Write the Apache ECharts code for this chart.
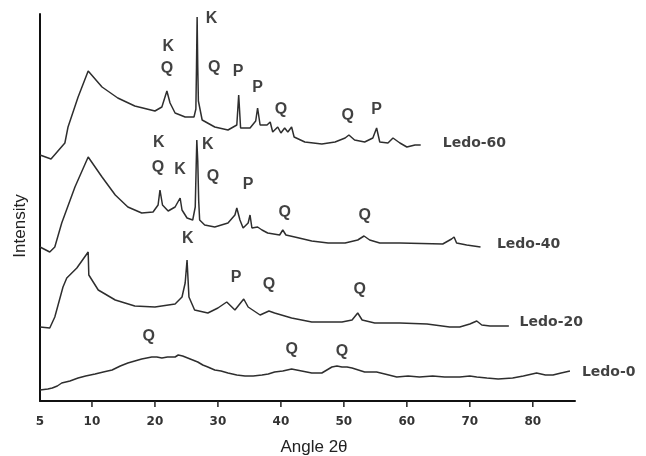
<!DOCTYPE html>
<html><head><meta charset="utf-8">
<script src="https://cdn.jsdelivr.net/npm/echarts@6/dist/echarts.min.js"></script>
<style>html,body{margin:0;padding:0;background:#fff}#c{width:646px;height:456px}</style>
</head><body><div id="c"></div>
<script>
// ---- data (2θ angle, intensity in arbitrary offset units) ----
const ledo60Angle = [1.75,3.5,5.7,6.2,7.8,9.4,11.6,14.1,16.8,20.0,21.1,21.9,22.4,23.2,24.8,26.2,26.5,26.6,26.7,26.8,26.9,27.5,29.5,31.6,33.0,33.3,33.6,35.1,36.0,36.3,36.7,37.8,38.3,38.7,39.5,40.0,40.6,41.1,41.7,42.1,43.8,46.5,48.6,50.2,50.8,51.7,53.3,54.6,55.2,55.7,57.0,57.8,58.9,60.0,61.3,62.2];
const ledo60Int   = [246,242,258,274,304,330,314,303,295,290,294,310,298,288,284,284,292,334,384,334,300,281,274,271,276,306,273,273,280,293,276,276,279,269,274,268,273,269,274,264,259,257,259,263,266,261,259,263,273,259,258,263,258,254,256,256];

const ledo40Angle = [1.75,3.3,4.1,5.2,7.3,9.4,11.6,13.7,15.7,17.9,19.7,20.5,20.8,21.2,22.1,23.2,24.0,24.3,25.1,26.0,26.4,26.55,26.65,26.8,26.95,27.1,27.9,29.5,31.6,32.7,33.0,33.5,34.0,34.8,35.1,35.4,36.3,37.0,37.9,39.8,40.3,40.8,42.2,44.9,47.5,50.2,52.2,53.2,54.1,55.7,58.9,65.7,67.1,67.5,67.9,69.5,71.7];
const ledo40Int   = [154,149,154,178,214,244,224,206,194,188,189,196,211,196,190,194,203,191,183,181,194,235,261,240,200,181,176,174,178,186,193,181,173,178,186,173,174,171,168,166,171,166,164,160,158,158,161,165,161,158,158,157,162,164,158,156,154];

const ledo20Angle = [1.75,3.3,4.1,5.4,6.0,7.6,9.4,9.5,11.0,13.7,16.8,20.0,23.2,24.3,24.8,25.1,25.4,26.3,28.4,30.0,31.4,32.7,34.1,34.8,36.7,38.1,39.0,41.7,44.9,49.7,51.3,52.2,52.9,54.9,58.9,63.2,66.8,68.4,70.0,71.1,71.9,73.2,76.2];
const ledo20Int   = [74,73,84,114,123,133,149,126,111,101,95,94,97,104,118,141,104,91,88,93,99,91,102,94,86,90,88,83,79,79,81,88,81,78,78,77,74,74,77,80,76,75,75];

const ledo0Angle = [1.75,3.0,3.7,4.5,5.2,6.5,7.8,9.0,10.5,11.8,13.2,14.5,15.7,16.8,17.9,18.7,19.0,19.5,20.3,21.1,22.0,23.2,23.7,24.4,25.2,26.0,26.8,27.6,28.4,29.5,30.5,31.6,33.0,34.3,35.6,37.0,38.0,39.0,40.3,41.7,42.5,43.3,44.9,46.5,47.3,48.1,48.9,49.7,50.5,51.3,52.3,53.3,54.2,55.2,56.5,58.4,60.2,62.0,64.1,66.0,68.4,70.0,71.1,72.7,74.5,76.8,78.5,80.6,82.0,83.2,84.5,85.9];
const ledo0Int   = [11,12,13,15,18,20,23,25,27,29,31,35,38,40,42,43,45,44,44,43,44,44,46,45,43,41,39,36,34,31,30,28,26,25,25,26,27,29,30,32,31,30,28,28,31,34,35,34,34,33,31,29,29,29,27,24,25,24,25,24,24,25,24,23,22,23,25,28,26,26,28,30];

// peak annotations
const peakLetters = ['K','Q','K','Q','P','P','Q','Q','P', 'K','Q','K','K','Q','P','Q','Q', 'K','P','Q','Q', 'Q','Q','Q'];
const peakAngles  = [22.1,21.9,29.0,29.4,33.2,36.3,40.0,50.6,55.2, 20.6,20.5,24.0,28.4,29.2,34.8,40.6,53.3, 25.2,32.9,38.1,52.5, 19.0,41.7,49.7];
const peakInts    = [354,332,382,333,329,313,291,285,291, 258,233,231,256,224,216,188,185, 162,123,116,111, 64,51,49];

// sample names
const sampleNames  = ['Ledo-60','Ledo-40','Ledo-20','Ledo-0'];
const sampleAngles = [65.7,74.3,77.9,87.8];
const sampleInts   = [258,157,79,29];

// axis ticks
const xTickValues = [10,20,30,40,50,60,70,80];
const xMin = 1.75, xMax = 86.7;
const xOriginLabel = '5';

const zip = (a,b) => a.map((v,i)=>[v,b[i]]);
const curves = [[ledo60Angle,ledo60Int],[ledo40Angle,ledo40Int],[ledo20Angle,ledo20Int],[ledo0Angle,ledo0Int]];

const chart = echarts.init(document.getElementById('c'));
const lineSeries = curves.map((c,i)=>({
  name: sampleNames[i], type:'line', data: zip(c[0],c[1]), showSymbol:false, smooth:false,
  lineStyle:{color:'#2e2e2e', width:1.5}, silent:true, animation:false
}));
chart.setOption({
  animation:false,
  grid:{left:40, right:71, top:14, bottom:55, containLabel:false, outerBoundsMode:'none'},
  xAxis:{
    type:'value', min:xMin, max:xMax,
    axisLine:{show:true, onZero:false, lineStyle:{color:'#111', width:2}},
    axisTick:{show:false},
    axisLabel:{customValues:[xMin].concat(xTickValues), margin:15,
      formatter:v => v < 5 ? xOriginLabel : String(v),
      fontFamily:'DejaVu Sans', fontWeight:'bold', fontSize:12, color:'#333'},
    splitLine:{show:false},
    name:'Angle 2θ', nameLocation:'middle', nameGap:38,
    nameTextStyle:{fontFamily:'Liberation Sans', fontSize:17, color:'#222', padding:[0,0,0,13]}
  },
  yAxis:{
    type:'value', min:0, max:387,
    axisLine:{show:true, onZero:false, lineStyle:{color:'#111', width:2}},
    axisTick:{show:false}, axisLabel:{show:false}, splitLine:{show:false}
  },
  graphic:[{type:'text', x:20, y:226, rotation:Math.PI/2,
    style:{text:'Intensity', font:'17px "Liberation Sans"', fill:'#222', textAlign:'center', textVerticalAlign:'middle'}}],
  series: lineSeries.concat([
    {type:'custom', silent:true, clip:false, data: xTickValues.map(v=>[v,0]),
      encode:{x:0, y:1},
      renderItem:(params, api)=>{
        const p = api.coord([api.value(0), api.value(1)]);
        return {type:'line', shape:{x1:p[0], y1:p[1], x2:p[0], y2:p[1]+6},
          style:{stroke:'#222', lineWidth:1.5}};
      }},
    {type:'scatter', symbolSize:0, silent:true, clip:false,
      data: peakAngles.map((a,i)=>[a, peakInts[i], peakLetters[i]]),
      label:{show:true, position:'inside', formatter:p=>p.data[2],
        fontFamily:'Liberation Sans', fontWeight:'bold', fontSize:16, color:'#111'}},
    {type:'scatter', symbolSize:0, silent:true, clip:false,
      data: sampleAngles.map((a,i)=>[a, sampleInts[i], sampleNames[i]]),
      label:{show:true, position:'inside', align:'left', formatter:p=>p.data[2],
        fontFamily:'DejaVu Sans', fontWeight:'bold', fontSize:14, color:'#111'}}
  ])
});
</script>
</body></html>
